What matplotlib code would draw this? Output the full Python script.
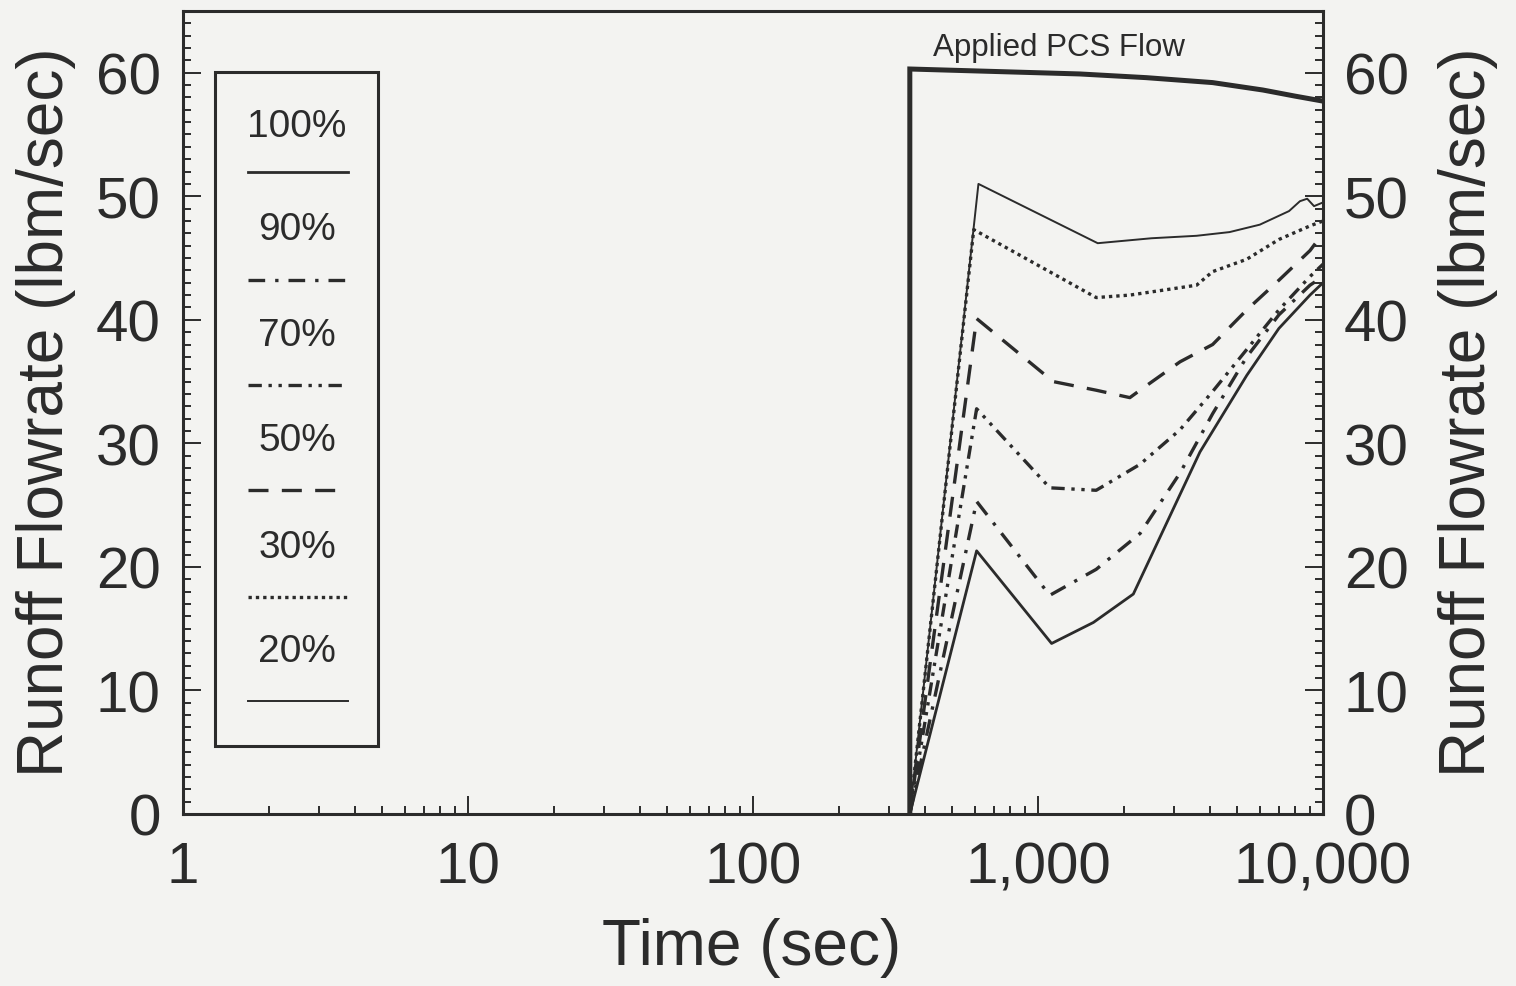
import matplotlib
matplotlib.use("Agg")
import matplotlib.pyplot as plt
from matplotlib.ticker import FixedLocator, MultipleLocator, LogLocator, FuncFormatter, NullFormatter

plt.rcParams['font.family'] = ['Liberation Sans', 'DejaVu Sans']

INK = "#2b2b2b"
BG = "#f3f3f1"

# ---------------------------------------------------- #
# data: time (sec), runoff flow (lbm/sec)
pcs_t = [355, 355, 1400, 2400, 4100, 6150, 8000, 10000]
pcs_q = [0, 60.3, 59.9, 59.6, 59.2, 58.6, 58.1, 57.7]

t20 = [355, 618, 1620, 2500, 3600, 4700, 6000, 7600, 8300, 8800, 9300, 10000]
q20 = [0, 51.0, 46.2, 46.6, 46.8, 47.1, 47.7, 48.8, 49.6, 49.8, 49.2, 49.5]

t30 = [355, 595, 1600, 2100, 3600, 4100, 5400, 7000, 9000, 10000]
q30 = [0, 47.3, 41.8, 42.0, 42.8, 43.9, 44.9, 46.5, 47.6, 48.0]

t50 = [355, 609, 1130, 1600, 2100, 2280, 3150, 4100, 5400, 7000, 9000, 10000]
q50 = [0, 40.1, 35.0, 34.3, 33.7, 34.3, 36.6, 38.0, 40.8, 43.2, 45.6, 47.0]

t70 = [355, 609, 1100, 1600, 2280, 3150, 4100, 5400, 7000, 9000, 10000]
q70 = [0, 32.8, 26.4, 26.2, 28.3, 31.1, 34.2, 37.6, 40.8, 43.5, 44.5]

t90 = [355, 609, 1100, 1600, 2280, 3150, 4100, 5400, 7000, 9000, 10000]
q90 = [0, 25.3, 17.7, 19.8, 22.7, 27.6, 32.4, 37.0, 40.4, 42.8, 43.5]

t100 = [355, 609, 1116, 1564, 2160, 3700, 5400, 7000, 9000, 10000]
q100 = [0, 21.3, 13.8, 15.5, 17.8, 29.3, 35.5, 39.3, 42.0, 43.0]

x_ticks = [1, 10, 100, 1000, 10000]
y_ticks = [0, 10, 20, 30, 40, 50, 60]

# label, time, flow, linewidth, dash pattern (None = solid)
series = [
    ("100%", t100, q100, 2.0, None),
    ("90%", t90, q90, 2.4, (5, 3, 1, 3)),
    ("70%", t70, q70, 2.4, (4, 2, 1, 2, 1, 2)),
    ("50%", t50, q50, 2.4, (6, 4)),
    ("30%", t30, q30, 2.4, (1, 1.2)),
    ("20%", t20, q20, 1.4, None),
]

# ---------------------------------------------------- #
fig = plt.figure(figsize=(15.16, 9.87), dpi=100, facecolor=BG)
ax = fig.add_axes([0.1207, 0.1743, 0.752, 0.8136], facecolor=BG)

ax.plot(pcs_t, pcs_q, color=INK, lw=3.6, solid_joinstyle="miter")
for lab, t, q, lw, dash in series:
    ln, = ax.plot(t, q, color=INK, lw=lw)
    if dash:
        ln.set_dashes(dash)

ax.set_xscale("log")
ax.set_xlim(1, 10000)
ax.set_ylim(0, 65)

ax.xaxis.set_major_locator(FixedLocator(x_ticks))
ax.xaxis.set_minor_locator(LogLocator(base=10, subs=range(2, 10)))
ax.xaxis.set_major_formatter(FuncFormatter(lambda v, p: f"{int(round(v)):,}"))
ax.xaxis.set_minor_formatter(NullFormatter())
ax.yaxis.set_major_locator(FixedLocator(y_ticks))
ax.yaxis.set_minor_locator(MultipleLocator(1))

ax.tick_params(which="both", direction="in", colors=INK, width=1.4,
               top=False, right=True, labelsize=42)
ax.tick_params(which="major", length=13)
ax.tick_params(which="minor", length=6)
ax.tick_params(axis="x", pad=19)
ax.tick_params(axis="y", pad=16)
for s in ax.spines.values():
    s.set_linewidth(2.2)
    s.set_color(INK)

ax.set_xlabel("Time (sec)", fontsize=46, color=INK)
ax.set_ylabel("Runoff Flowrate (lbm/sec)", fontsize=46, color=INK)
ax.xaxis.set_label_coords(0.499, -0.128)
ax.yaxis.set_label_coords(-0.094, 0.502)

axr = ax.twinx()
axr.set_ylim(ax.get_ylim())
axr.yaxis.set_major_locator(FixedLocator(y_ticks))
axr.yaxis.set_minor_locator(MultipleLocator(1))
axr.tick_params(which="both", direction="in", colors=INK, width=1.4,
                labelsize=42, pad=15)
axr.tick_params(which="major", length=13)
axr.tick_params(which="minor", length=6)
axr.set_ylabel("Runoff Flowrate (lbm/sec)", fontsize=46, color=INK)
axr.yaxis.set_label_coords(1.101, 0.502)
for s in axr.spines.values():
    s.set_visible(False)

ax.text(0.658, 0.955, "Applied PCS Flow", transform=ax.transAxes,
        fontsize=22.5, color=INK, ha="left", va="center")

# ---- hand drawn legend box ----
ax.add_patch(plt.Rectangle((0.028, 0.0847), 0.143, 0.8393, transform=ax.transAxes,
                           fill=False, ec=INK, lw=2.2))
lab_y = [0.857, 0.7285, 0.5965, 0.4658, 0.3325, 0.203]
line_y = [0.7995, 0.665, 0.534, 0.4035, 0.270, 0.1407]
for (lab, t, q, lw, dash), ly, sy in zip(series, lab_y, line_y):
    ax.text(0.1, ly, lab, transform=ax.transAxes, fontsize=28, color=INK,
            ha="center", va="center")
    ln, = ax.plot([0.057, 0.1447], [sy, sy], transform=ax.transAxes,
                  color=INK, lw=lw)
    if dash:
        ln.set_dashes(dash)

fig.savefig("out.png", dpi=100, facecolor=BG)
